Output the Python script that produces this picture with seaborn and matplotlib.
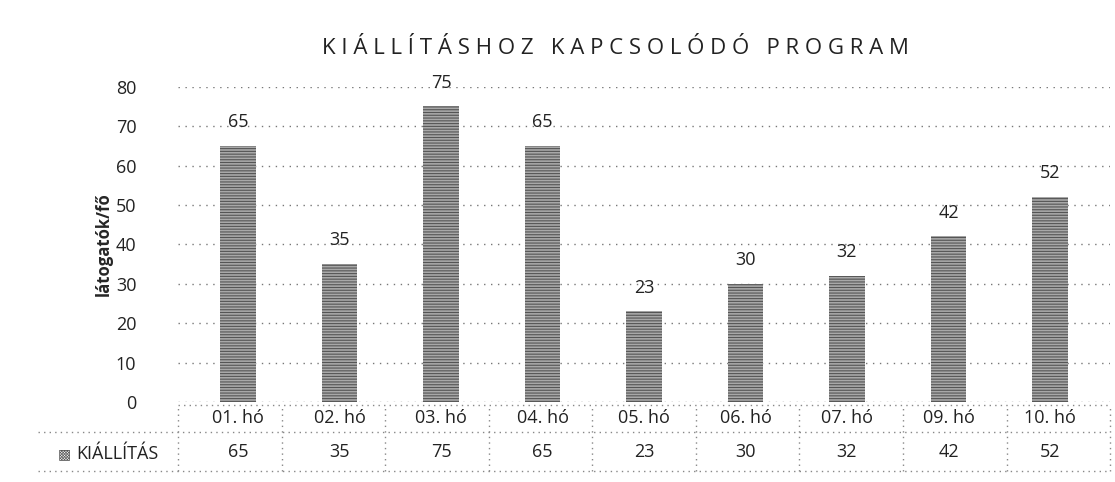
import numpy as np
import pandas as pd
import seaborn as sns
import matplotlib.pyplot as plt
import matplotlib.transforms as mtransforms

# data
months = ['01. hó', '02. hó', '03. hó', '04. hó', '05. hó', '06. hó', '07. hó', '09. hó', '10. hó']
visitors = [65, 35, 75, 65, 23, 30, 32, 42, 52]
series_name = 'KIÁLLÍTÁS'

df = pd.DataFrame({'honap': months, 'fo': visitors})

sns.set_style('white')
plt.rcParams['font.family'] = ['Open Sans', 'DejaVu Sans']
plt.rcParams['hatch.linewidth'] = 0.8

fig = plt.figure(figsize=(11.15, 4.82), dpi=100)
ax = fig.add_axes([0.1596, 0.166, 0.836, 0.654])

sns.barplot(data=df, x='honap', y='fo', color='#a8a8a8', width=0.35,
            edgecolor='#555555', linewidth=0, ax=ax)
for p in ax.patches:
    p.set_hatch('------')

ax.set_ylim(0, 80)
ax.set_yticks(range(0, 81, 10))
ax.tick_params(axis='y', labelsize=13, length=0, pad=30, labelcolor='#222222')
ax.set_xticks(range(len(months)))
ax.set_xticklabels([])
ax.tick_params(axis='x', length=0)
ax.set_xlabel('')
ax.set_ylabel('látogatók/fő', fontsize=12, fontweight='bold', labelpad=2)
ax.yaxis.grid(True, linestyle=(0, (1, 4)), color='#777777', linewidth=1)
ax.set_axisbelow(True)
for s in ax.spines.values():
    s.set_visible(False)

for i, v in enumerate(visitors):
    ax.annotate(str(v), (i, v), xytext=(0, 17), textcoords='offset points',
                ha='center', va='center', fontsize=13, color='#222222')

fig.text(0.552, 0.9, 'K I Á L L Í T Á S H O Z   K A P C S O L Ó D Ó   P R O G R A M',
         ha='center', va='center', fontsize=16, color='#222222')

# data table below the plot
trans = mtransforms.blended_transform_factory(ax.transData, ax.transAxes)
for i, (m, v) in enumerate(zip(months, visitors)):
    ax.text(i, -0.05, m, transform=trans, ha='center', va='center', fontsize=13,
            color='#222222', clip_on=False)
    ax.text(i, -0.16, str(v), transform=trans, ha='center', va='center', fontsize=13,
            color='#222222', clip_on=False)

ls = dict(color='#888888', linewidth=1, linestyle=(0, (1, 3)), clip_on=False, transform=ax.transAxes)
ax.plot([0, 1], [-0.01, -0.01], **ls)
ax.plot([-0.15, 1], [-0.095, -0.095], **ls)
ax.plot([-0.15, 1], [-0.22, -0.22], **ls)
for k in range(len(months) + 1):
    ax.plot([k / len(months)] * 2, [-0.22, -0.01], **ls)

fig.text(0.058, 0.058, '▩', ha='center', va='center', fontsize=10, color='#555555',
         family=['DejaVu Sans'])
fig.text(0.068, 0.058, series_name, ha='left', va='center', fontsize=13, color='#222222')

fig.savefig('out.png', dpi=100)
